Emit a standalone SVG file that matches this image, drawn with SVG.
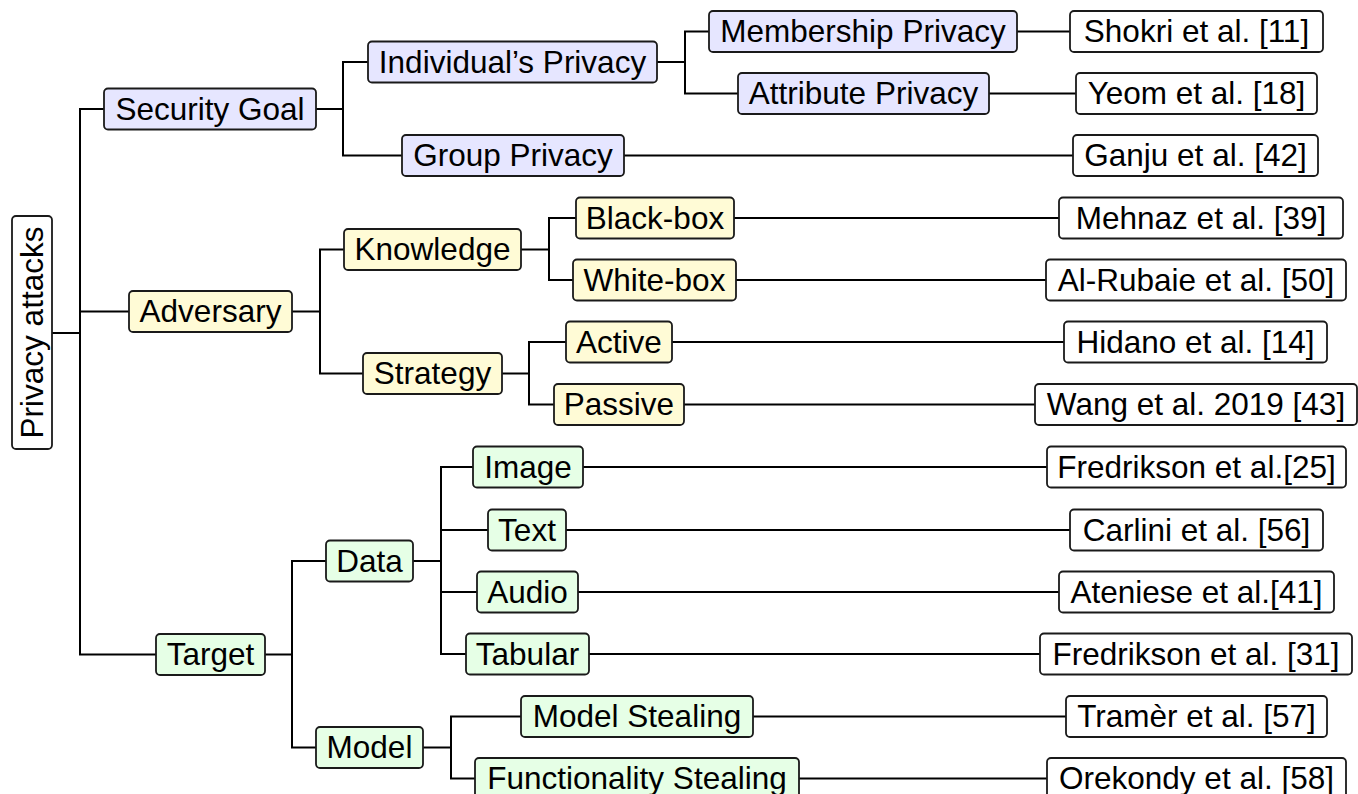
<svg xmlns="http://www.w3.org/2000/svg" width="1358" height="794" viewBox="0 0 1358 794">
  <style>
    .box { stroke: #1a1a1a; stroke-width: 1.8; }
    .blue { fill: #e6e6ff; }
    .yellow { fill: #fffbd6; }
    .green { fill: #e6ffe6; }
    .white { fill: #ffffff; }
    .lbl { font-family: "Liberation Sans", Arial, sans-serif; font-size: 31.5px; fill: #000; text-anchor: middle; }
    .edge { fill: none; stroke: #000; stroke-width: 2; stroke-linejoin: miter; }
  </style>

  <!-- connectors: elbow links from each parent to its children -->
  <g id="connectors" class="edge">
    <!-- root trunk -->
    <path d="M52 333 H80"/>
    <path d="M104 109 H80 V654.5 H156"/>
    <path d="M80 311.5 H129"/>
    <!-- Security Goal -->
    <path d="M316 109 H343"/>
    <path d="M368 62 H343 V155.5 H402"/>
    <path d="M657 62 H685"/>
    <path d="M709 31.5 H685 V93.5 H738"/>
    <path d="M1017 31.5 H1070"/>
    <path d="M989 93.5 H1076"/>
    <path d="M624 155.5 H1073"/>
    <!-- Adversary -->
    <path d="M292 311.5 H320"/>
    <path d="M344 249.5 H320 V373.5 H363"/>
    <path d="M521 249.5 H549"/>
    <path d="M576 218 H549 V280 H573"/>
    <path d="M734 218 H1059"/>
    <path d="M736 280 H1046"/>
    <path d="M502 373.5 H529"/>
    <path d="M566 342 H529 V404.5 H554"/>
    <path d="M672 342 H1064"/>
    <path d="M684 404.5 H1035"/>
    <!-- Target -->
    <path d="M265 654.5 H292"/>
    <path d="M326 561 H292 V747.5 H316"/>
    <path d="M413 561 H441"/>
    <path d="M473 467 H441 V654 H466"/>
    <path d="M441 530 H488"/>
    <path d="M441 592 H477"/>
    <path d="M583 467 H1047"/>
    <path d="M566 530 H1070"/>
    <path d="M578 592 H1059"/>
    <path d="M589 654 H1040"/>
    <path d="M423 747.5 H451"/>
    <path d="M521 716.5 H451 V778.5 H475"/>
    <path d="M753 716.5 H1066"/>
    <path d="M799 778.5 H1047"/>
  </g>

  <!-- root -->
  <g id="root">
    <rect class="box white" x="12" y="216" width="40" height="233" rx="4"/>
    <text class="lbl" transform="translate(42.5,332.5) rotate(-90)">Privacy attacks</text>
  </g>

  <!-- level 1 -->
  <g id="security-goal">
    <rect class="box blue" x="104" y="88.5" width="212" height="41" rx="4"/>
    <text class="lbl" x="210" y="119.5">Security Goal</text>
  </g>
  <g id="adversary">
    <rect class="box yellow" x="129" y="291" width="163" height="41" rx="4"/>
    <text class="lbl" x="210.5" y="322">Adversary</text>
  </g>
  <g id="target">
    <rect class="box green" x="156" y="634" width="109" height="41" rx="4"/>
    <text class="lbl" x="210.5" y="665">Target</text>
  </g>

  <!-- level 2 -->
  <g id="individual-privacy">
    <rect class="box blue" x="368" y="41.5" width="289" height="41" rx="4"/>
    <text class="lbl" x="512.5" y="72.5">Individual’s Privacy</text>
  </g>
  <g id="group-privacy">
    <rect class="box blue" x="402" y="135" width="222" height="41" rx="4"/>
    <text class="lbl" x="513" y="166">Group Privacy</text>
  </g>
  <g id="knowledge">
    <rect class="box yellow" x="344" y="229" width="177" height="41" rx="4"/>
    <text class="lbl" x="432.5" y="260">Knowledge</text>
  </g>
  <g id="strategy">
    <rect class="box yellow" x="363" y="353" width="139" height="41" rx="4"/>
    <text class="lbl" x="432.5" y="384">Strategy</text>
  </g>
  <g id="data">
    <rect class="box green" x="326" y="540.5" width="87" height="41" rx="4"/>
    <text class="lbl" x="369.5" y="571.5">Data</text>
  </g>
  <g id="model">
    <rect class="box green" x="316" y="727" width="107" height="41" rx="4"/>
    <text class="lbl" x="369.5" y="758">Model</text>
  </g>

  <!-- level 3 -->
  <g id="membership-privacy">
    <rect class="box blue" x="709" y="11" width="308" height="41" rx="4"/>
    <text class="lbl" x="863" y="42">Membership Privacy</text>
  </g>
  <g id="attribute-privacy">
    <rect class="box blue" x="738" y="73" width="251" height="41" rx="4"/>
    <text class="lbl" x="863.5" y="104">Attribute Privacy</text>
  </g>
  <g id="black-box">
    <rect class="box yellow" x="576" y="197.5" width="158" height="41" rx="4"/>
    <text class="lbl" x="655" y="228.5">Black-box</text>
  </g>
  <g id="white-box">
    <rect class="box yellow" x="573" y="259.5" width="163" height="41" rx="4"/>
    <text class="lbl" x="654.5" y="290.5">White-box</text>
  </g>
  <g id="active">
    <rect class="box yellow" x="566" y="321.5" width="106" height="41" rx="4"/>
    <text class="lbl" x="619" y="352.5">Active</text>
  </g>
  <g id="passive">
    <rect class="box yellow" x="554" y="384" width="130" height="41" rx="4"/>
    <text class="lbl" x="619" y="415">Passive</text>
  </g>
  <g id="image">
    <rect class="box green" x="473" y="446.5" width="110" height="41" rx="4"/>
    <text class="lbl" x="528" y="477.5">Image</text>
  </g>
  <g id="text">
    <rect class="box green" x="488" y="509.5" width="78" height="41" rx="4"/>
    <text class="lbl" x="527" y="540.5">Text</text>
  </g>
  <g id="audio">
    <rect class="box green" x="477" y="571.5" width="101" height="41" rx="4"/>
    <text class="lbl" x="527.5" y="602.5">Audio</text>
  </g>
  <g id="tabular">
    <rect class="box green" x="466" y="633.5" width="123" height="41" rx="4"/>
    <text class="lbl" x="527.5" y="664.5">Tabular</text>
  </g>
  <g id="model-stealing">
    <rect class="box green" x="521" y="696" width="232" height="41" rx="4"/>
    <text class="lbl" x="637" y="727">Model Stealing</text>
  </g>
  <g id="functionality-stealing">
    <rect class="box green" x="475" y="758" width="324" height="41" rx="4"/>
    <text class="lbl" x="637" y="789">Functionality Stealing</text>
  </g>

  <!-- references -->
  <g id="ref-shokri">
    <rect class="box white" x="1070" y="11" width="253" height="41" rx="4"/>
    <text class="lbl" x="1196.5" y="42">Shokri et al. [11]</text>
  </g>
  <g id="ref-yeom">
    <rect class="box white" x="1076" y="73" width="241" height="41" rx="4"/>
    <text class="lbl" x="1196.5" y="104">Yeom et al. [18]</text>
  </g>
  <g id="ref-ganju">
    <rect class="box white" x="1073" y="135" width="245" height="41" rx="4"/>
    <text class="lbl" x="1195.5" y="166">Ganju et al. [42]</text>
  </g>
  <g id="ref-mehnaz">
    <rect class="box white" x="1059" y="197.5" width="284" height="41" rx="4"/>
    <text class="lbl" x="1201" y="228.5">Mehnaz et al. [39]</text>
  </g>
  <g id="ref-alrubaie">
    <rect class="box white" x="1046" y="259.5" width="300" height="41" rx="4"/>
    <text class="lbl" x="1196" y="290.5">Al-Rubaie et al. [50]</text>
  </g>
  <g id="ref-hidano">
    <rect class="box white" x="1064" y="321.5" width="263" height="41" rx="4"/>
    <text class="lbl" x="1195.5" y="352.5">Hidano et al. [14]</text>
  </g>
  <g id="ref-wang">
    <rect class="box white" x="1035" y="384" width="322" height="41" rx="4"/>
    <text class="lbl" x="1196" y="415">Wang et al. 2019 [43]</text>
  </g>
  <g id="ref-fredrikson-25">
    <rect class="box white" x="1047" y="446.5" width="299" height="41" rx="4"/>
    <text class="lbl" x="1196.5" y="477.5">Fredrikson et al.[25]</text>
  </g>
  <g id="ref-carlini">
    <rect class="box white" x="1070" y="509.5" width="253" height="41" rx="4"/>
    <text class="lbl" x="1196.5" y="540.5">Carlini et al. [56]</text>
  </g>
  <g id="ref-ateniese">
    <rect class="box white" x="1059" y="571.5" width="275" height="41" rx="4"/>
    <text class="lbl" x="1196.5" y="602.5">Ateniese et al.[41]</text>
  </g>
  <g id="ref-fredrikson-31">
    <rect class="box white" x="1040" y="633.5" width="312" height="41" rx="4"/>
    <text class="lbl" x="1196" y="664.5">Fredrikson et al. [31]</text>
  </g>
  <g id="ref-tramer">
    <rect class="box white" x="1066" y="696" width="261" height="41" rx="4"/>
    <text class="lbl" x="1196.5" y="727">Tramèr et al. [57]</text>
  </g>
  <g id="ref-orekondy">
    <rect class="box white" x="1047" y="758" width="299" height="41" rx="4"/>
    <text class="lbl" x="1196.5" y="789">Orekondy et al. [58]</text>
  </g>
</svg>
